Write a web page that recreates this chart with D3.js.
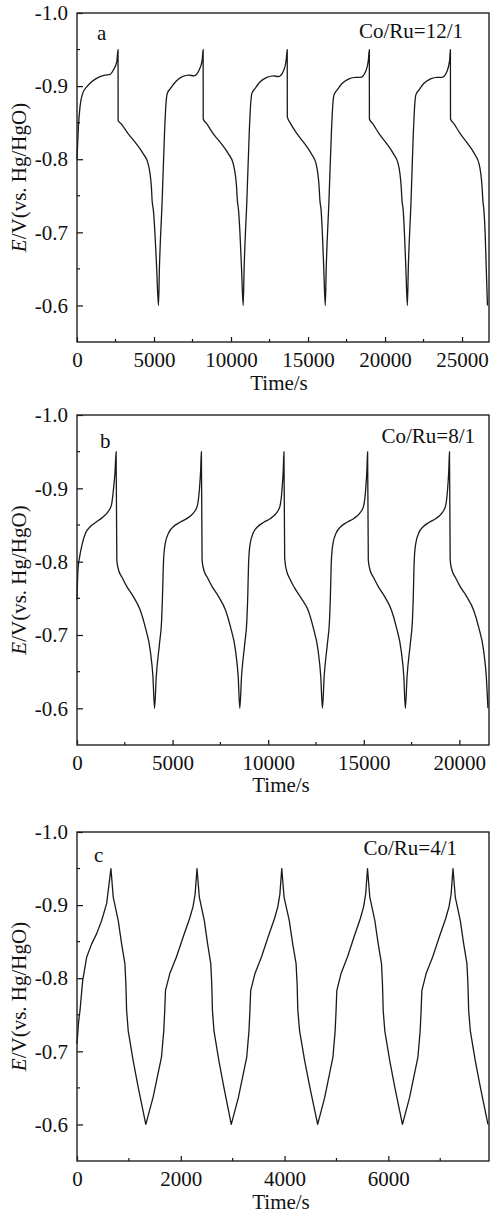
<!DOCTYPE html>
<html><head><meta charset="utf-8">
<script src="https://cdn.jsdelivr.net/npm/d3@7"></script>
<style>
body{margin:0;background:#fff}
svg{display:block}
text{font-family:"Liberation Serif","Times New Roman",serif;fill:#111}
</style>
</head><body><svg id="chart" width="498" height="1216"></svg>
<script>
// ---------- tick values ----------
const yTicks = [-1.0, -0.9, -0.8, -0.7, -0.6];
const yMinor = [-0.95, -0.85, -0.75, -0.65];
const xTicksA = [0, 5000, 10000, 15000, 20000, 25000];
const xMinorA = [2500, 7500, 12500, 17500, 22500];
const xTicksB = [0, 5000, 10000, 15000, 20000];
const xMinorB = [2500, 7500, 12500, 17500];
const xTicksC = [0, 2000, 4000, 6000];
const xMinorC = [1000, 3000, 5000, 7000];
const panelLetters = ["a", "b", "c"];
const panelRatios = ["Co/Ru=12/1", "Co/Ru=8/1", "Co/Ru=4/1"];

// ---------- series: Co/Ru = 12/1 ----------
const timeA = [
  0,90,195,370,630,955,1385,1820,2145,2360,2580,2665,
  2670,2880,3315,3855,4285,4615,4830,4875,4960,5060,5170,5290,
  5350,5530,5690,5750,5860,6080,6400,6840,7270,7600,7930,8130,8190,
  8195,8410,8840,9380,9810,10140,10360,10410,10490,10580,10680,10790,
  10850,11030,11190,11250,11355,11570,11895,12330,12760,13090,13410,13585,13650,
  13655,13860,14280,14790,15200,15520,15720,15770,15850,15930,16020,16120,
  16180,16360,16520,16580,16685,16900,17225,17660,18090,18420,18740,18915,18980,
  18985,19190,19610,20120,20530,20850,21050,21100,21180,21260,21350,21450,
  21510,21690,21840,21900,22000,22210,22530,22960,23380,23700,24020,24190,24245,
  24250,24460,24880,25380,25790,26100,26300,26350,26420,26500,26570,26650
];
const potentialA = [
  -0.800,-0.844,-0.872,-0.890,-0.899,-0.906,-0.912,-0.915,-0.916,-0.922,-0.933,-0.950,
  -0.853,-0.848,-0.835,-0.821,-0.808,-0.794,-0.762,-0.744,-0.730,-0.699,-0.652,-0.600,
  -0.650,-0.744,-0.840,-0.867,-0.890,-0.897,-0.906,-0.913,-0.915,-0.914,-0.922,-0.936,-0.950,
  -0.855,-0.849,-0.835,-0.821,-0.808,-0.794,-0.762,-0.744,-0.730,-0.699,-0.652,-0.600,
  -0.650,-0.744,-0.840,-0.867,-0.890,-0.897,-0.906,-0.912,-0.914,-0.913,-0.921,-0.936,-0.950,
  -0.858,-0.849,-0.835,-0.821,-0.808,-0.794,-0.762,-0.744,-0.730,-0.699,-0.652,-0.600,
  -0.650,-0.744,-0.838,-0.865,-0.888,-0.895,-0.904,-0.910,-0.912,-0.912,-0.920,-0.935,-0.950,
  -0.855,-0.849,-0.835,-0.821,-0.808,-0.794,-0.762,-0.744,-0.730,-0.699,-0.652,-0.600,
  -0.650,-0.744,-0.838,-0.865,-0.888,-0.895,-0.904,-0.910,-0.912,-0.912,-0.920,-0.935,-0.950,
  -0.855,-0.849,-0.835,-0.821,-0.808,-0.794,-0.762,-0.744,-0.730,-0.699,-0.652,-0.600
];

// ---------- series: Co/Ru = 8/1 ----------
const timeB = [
  0,52,140,280,450,700,1010,1360,1620,1800,1920,1990,2046,
  2083,2170,2346,2608,2954,3306,3568,3830,3972,4056,
  4145,4318,4426,4466,4528,4617,4790,5053,5404,5756,6071,6281,6401,6469,6506,
  6543,6630,6806,7068,7414,7766,8028,8290,8432,8516,
  8605,8778,8886,8926,8981,9061,9216,9461,9791,10121,10416,10611,10723,10788,10825,
  10862,10949,11125,11387,11733,12085,12347,12609,12751,12838,
  12927,13100,13208,13248,13306,13390,13554,13804,14143,14481,14783,14983,15098,15163,15200,
  15237,15324,15500,15760,16100,16445,16700,16955,17095,17175,
  17264,17437,17545,17585,17640,17720,17875,18120,18450,18780,19075,19270,19382,19447,19483,
  19520,19607,19783,20045,20391,20743,21005,21267,21409,21495
];
const potentialB = [
  -0.748,-0.789,-0.807,-0.825,-0.839,-0.848,-0.854,-0.861,-0.868,-0.877,-0.902,-0.923,-0.950,
  -0.802,-0.789,-0.779,-0.766,-0.752,-0.734,-0.711,-0.679,-0.643,-0.600,
  -0.643,-0.689,-0.720,-0.748,-0.802,-0.825,-0.839,-0.848,-0.854,-0.859,-0.866,-0.875,-0.898,-0.925,-0.950,
  -0.802,-0.789,-0.779,-0.766,-0.752,-0.734,-0.711,-0.679,-0.643,-0.600,
  -0.643,-0.689,-0.720,-0.748,-0.802,-0.825,-0.839,-0.848,-0.854,-0.859,-0.866,-0.875,-0.898,-0.925,-0.950,
  -0.805,-0.789,-0.777,-0.764,-0.750,-0.734,-0.711,-0.679,-0.643,-0.600,
  -0.643,-0.689,-0.720,-0.748,-0.802,-0.825,-0.839,-0.848,-0.854,-0.859,-0.866,-0.875,-0.898,-0.925,-0.950,
  -0.802,-0.789,-0.779,-0.766,-0.752,-0.734,-0.711,-0.679,-0.643,-0.600,
  -0.643,-0.689,-0.720,-0.748,-0.802,-0.825,-0.839,-0.848,-0.854,-0.859,-0.866,-0.875,-0.898,-0.925,-0.950,
  -0.802,-0.789,-0.779,-0.766,-0.752,-0.734,-0.711,-0.679,-0.643,-0.600
];

// ---------- series: Co/Ru = 4/1 ----------
const timeC = [
  0,30,58,110,187,283,379,475,571,654,
  698,794,860,923,942,956,987,1083,1179,1326,
  1466,1628,1672,1691,1705,1787,1916,2044,2172,2236,2276,2313,
  2357,2453,2517,2578,2597,2610,2640,2735,2830,2973,
  3111,3271,3314,3333,3347,3428,3555,3681,3808,3871,3910,3946,
  3990,4090,4157,4222,4242,4256,4290,4388,4487,4638,
  4774,4932,4975,4993,5007,5087,5212,5337,5462,5524,5563,5599,
  5643,5739,5805,5868,5887,5901,5932,6028,6124,6272,
  6410,6570,6613,6632,6646,6727,6854,6980,7107,7170,7210,7246,
  7290,7386,7452,7515,7534,7548,7580,7676,7773,7920
];
const potentialC = [
  -0.710,-0.740,-0.756,-0.797,-0.829,-0.847,-0.861,-0.879,-0.902,-0.950,
  -0.911,-0.879,-0.847,-0.820,-0.792,-0.756,-0.728,-0.687,-0.651,-0.600,
  -0.637,-0.692,-0.728,-0.756,-0.783,-0.806,-0.829,-0.856,-0.882,-0.898,-0.915,-0.950,
  -0.911,-0.879,-0.847,-0.820,-0.792,-0.756,-0.728,-0.687,-0.651,-0.600,
  -0.637,-0.692,-0.728,-0.756,-0.783,-0.806,-0.829,-0.856,-0.882,-0.898,-0.915,-0.950,
  -0.911,-0.879,-0.847,-0.820,-0.792,-0.756,-0.728,-0.687,-0.651,-0.600,
  -0.637,-0.692,-0.728,-0.756,-0.783,-0.806,-0.829,-0.856,-0.882,-0.898,-0.915,-0.950,
  -0.911,-0.879,-0.847,-0.820,-0.792,-0.756,-0.728,-0.687,-0.651,-0.600,
  -0.637,-0.692,-0.728,-0.756,-0.783,-0.806,-0.829,-0.856,-0.882,-0.898,-0.915,-0.950,
  -0.911,-0.879,-0.847,-0.820,-0.792,-0.756,-0.728,-0.687,-0.651,-0.600
];

// ---------- layout ----------
const svg = d3.select("#chart");
const FS = 21;
const panels = [
  {top: 13, bottom: 342, xMax: 26750, xTicks: xTicksA, xMinor: xMinorA, t: timeA, e: potentialA,
   curve: d3.curveMonotoneX, letterPos: [97, 40], ratioPos: [463, 38], titleY: 390, titleX: 279},
  {top: 415, bottom: 745, xMax: 21550, xTicks: xTicksB, xMinor: xMinorB, t: timeB, e: potentialB,
   curve: d3.curveMonotoneX, letterPos: [100, 448], ratioPos: [475, 443], titleY: 792, titleX: 281},
  {top: 832, bottom: 1161, xMax: 7940, xTicks: xTicksC, xMinor: xMinorC, t: timeC, e: potentialC,
   curve: d3.curveLinear, letterPos: [94, 862], ratioPos: [457, 855], titleY: 1209, titleX: 281}
];
const left = 77, right = 489;

panels.forEach((p, i) => {
  const g = svg.append("g");
  const x = d3.scaleLinear().domain([0, p.xMax]).range([left, right]);
  const y = d3.scaleLinear().domain([-0.55, -1.0]).range([p.bottom, p.top]);

  // data line
  const pts = p.t.map((t, k) => [t, p.e[k]]);
  g.append("path").datum(pts)
    .attr("fill", "none").attr("stroke", "#1a1a1a").attr("stroke-width", 1.3)
    .attr("stroke-linejoin", "round")
    .attr("d", d3.line().x(d => x(d[0])).y(d => y(d[1])).curve(p.curve));

  // axes
  const xa = g.append("g").attr("transform", `translate(0,${p.bottom})`)
    .call(d3.axisBottom(x).tickValues(p.xTicks).tickSize(-5).tickSizeOuter(0)
      .tickPadding(10).tickFormat(d => String(d)));
  const ya = g.append("g").attr("transform", `translate(${left},0)`)
    .call(d3.axisLeft(y).tickValues(yTicks).tickSize(-6).tickSizeOuter(0)
      .tickPadding(9).tickFormat(d => d.toFixed(1)));
  [xa, ya].forEach(a => {
    a.select(".domain").remove();
    a.selectAll(".tick line").attr("stroke", "#111").attr("stroke-width", 1.2);
    a.selectAll(".tick text").attr("font-size", FS).attr("fill", "#111")
      .attr("font-family", "'Liberation Serif','Times New Roman',serif");
  });

  // minor ticks
  g.selectAll(".xm").data(p.xMinor).enter().append("line")
    .attr("x1", d => x(d)).attr("x2", d => x(d))
    .attr("y1", p.bottom).attr("y2", p.bottom - 3)
    .attr("stroke", "#111").attr("stroke-width", 1.2);
  g.selectAll(".ym").data(yMinor).enter().append("line")
    .attr("x1", left).attr("x2", left + 3)
    .attr("y1", d => y(d)).attr("y2", d => y(d))
    .attr("stroke", "#111").attr("stroke-width", 1.2);

  // frame
  g.append("rect").attr("x", left).attr("y", p.top)
    .attr("width", right - left).attr("height", p.bottom - p.top)
    .attr("fill", "none").attr("stroke", "#222").attr("stroke-width", 1.4);

  // axis titles
  g.append("text").attr("x", p.titleX).attr("y", p.titleY)
    .attr("text-anchor", "middle").attr("font-size", FS).text("Time/s");
  const yl = g.append("text")
    .attr("transform", `translate(26,${(p.top + p.bottom) / 2}) rotate(-90)`)
    .attr("text-anchor", "middle").attr("font-size", FS);
  yl.append("tspan").attr("font-style", "italic").text("E");
  yl.append("tspan").text("/V(vs. Hg/HgO)");

  // annotations
  g.append("text").attr("x", p.letterPos[0]).attr("y", p.letterPos[1])
    .attr("font-size", FS).text(panelLetters[i]);
  g.append("text").attr("x", p.ratioPos[0]).attr("y", p.ratioPos[1])
    .attr("text-anchor", "end").attr("font-size", FS).text(panelRatios[i]);
});
</script>
</body></html>
